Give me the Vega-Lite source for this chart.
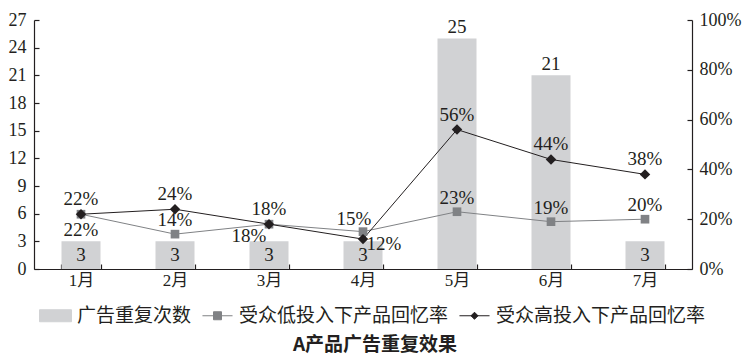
{
  "$schema": "https://vega.github.io/schema/vega-lite/v6.json",
  "width": 658,
  "height": 249,
  "autosize": {"type": "none"},
  "padding": {"left": 34, "top": 20, "right": 60, "bottom": 91},
  "background": "white",
  "config": {
    "view": {"stroke": null},
    "axis": {
      "domainColor": "#231f20",
      "tickColor": "#231f20",
      "labelColor": "#231f20",
      "labelFont": "Liberation Serif",
      "labelFontSize": 18,
      "labelOverlap": false,
      "grid": false,
      "title": null,
      "tickSize": -5,
      "labelPadding": 13,
      "domainWidth": 1.2,
      "tickWidth": 1.2
    },
    "legend": {
      "title": null,
      "labelFont": "Noto Sans CJK SC",
      "labelFontSize": 19,
      "labelColor": "#231f20",
      "labelLimit": 400
    }
  },
  "datasets": {
    "bars": [
      {"month": "1月", "count": 3},
      {"month": "2月", "count": 3},
      {"month": "3月", "count": 3},
      {"month": "4月", "count": 3},
      {"month": "5月", "count": 25},
      {"month": "6月", "count": 21},
      {"month": "7月", "count": 3}
    ],
    "rates": [
      {"month": "1月", "series": "受众低投入下产品回忆率", "rate": 0.22},
      {"month": "2月", "series": "受众低投入下产品回忆率", "rate": 0.14},
      {"month": "3月", "series": "受众低投入下产品回忆率", "rate": 0.18},
      {"month": "4月", "series": "受众低投入下产品回忆率", "rate": 0.15},
      {"month": "5月", "series": "受众低投入下产品回忆率", "rate": 0.23},
      {"month": "6月", "series": "受众低投入下产品回忆率", "rate": 0.19},
      {"month": "7月", "series": "受众低投入下产品回忆率", "rate": 0.20},
      {"month": "1月", "series": "受众高投入下产品回忆率", "rate": 0.22},
      {"month": "2月", "series": "受众高投入下产品回忆率", "rate": 0.24},
      {"month": "3月", "series": "受众高投入下产品回忆率", "rate": 0.18},
      {"month": "4月", "series": "受众高投入下产品回忆率", "rate": 0.12},
      {"month": "5月", "series": "受众高投入下产品回忆率", "rate": 0.56},
      {"month": "6月", "series": "受众高投入下产品回忆率", "rate": 0.44},
      {"month": "7月", "series": "受众高投入下产品回忆率", "rate": 0.38}
    ]
  },
  "title": {
    "text": "A产品广告重复效果",
    "orient": "bottom",
    "anchor": "middle",
    "font": "Noto Sans CJK SC",
    "fontSize": 19,
    "fontWeight": "bold",
    "color": "#231f20",
    "offset": 10,
    "dx": 12
  },
  "encoding": {
    "x": {
      "field": "month",
      "type": "nominal",
      "sort": ["1月", "2月", "3月", "4月", "5月", "6月", "7月"],
      "scale": {"paddingInner": 0.585, "paddingOuter": 0.2925},
      "axis": {
        "tickBand": "extent",
        "labelAngle": 0,
        "labelFont": "Liberation Serif, Noto Sans CJK SC",
        "labelFontSize": 17,
        "labelPadding": 8
      }
    }
  },
  "layer": [
    {
      "data": {"name": "bars"},
      "encoding": {
        "y": {
          "field": "count",
          "type": "quantitative",
          "scale": {"domain": [0, 27], "nice": false},
          "axis": {"orient": "left", "values": [0, 3, 6, 9, 12, 15, 18, 21, 24, 27], "labelOverlap": false}
        }
      },
      "layer": [
        {
          "mark": {"type": "bar"},
          "encoding": {
            "color": {
              "datum": "广告重复次数",
              "type": "nominal",
              "scale": {
                "domain": ["广告重复次数", "受众低投入下产品回忆率", "受众高投入下产品回忆率"],
                "range": ["#d1d2d4", "#808285", "#231f20"]
              },
              "legend": {
                "orient": "none",
                "legendX": 5,
                "legendY": 279,
                "direction": "horizontal",
                "title": null,
                "symbolSize": 1024,
                "labelOffset": 5,
                "columnPadding": 8,
                "encode": {
                  "symbols": {
                    "update": {
                      "shape": [
                        {"test": "datum.value === '广告重复次数'", "value": "M-1,-0.375H1V0.375H-1Z"},
                        {"test": "datum.value === '受众低投入下产品回忆率'", "value": "M-0.94,0H0.94M-0.25,-0.25H0.25V0.25H-0.25Z"},
                        {"value": "M-0.94,0H0.94M0,-0.22L0.22,0L0,0.22L-0.22,0Z"}
                      ],
                      "fill": {"scale": "color", "field": "value"},
                      "stroke": {"scale": "color", "field": "value"},
                      "size": {"value": 1024},
                      "strokeWidth": {"value": 1},
                      "opacity": {"value": 1},
                      "fillOpacity": {"value": 1}
                    }
                  }
                }
              }
            }
          }
        },
        {
          "transform": [{"filter": "datum.count < 10"}],
          "mark": {"type": "text", "font": "Liberation Serif", "fontSize": 19, "color": "#231f20", "baseline": "middle", "dy": 14},
          "encoding": {
            "text": {"field": "count", "type": "quantitative"}
          }
        },
        {
          "transform": [{"filter": "datum.count >= 10"}],
          "mark": {"type": "text", "font": "Liberation Serif", "fontSize": 19, "color": "#231f20", "baseline": "middle", "dy": -11},
          "encoding": {
            "text": {"field": "count", "type": "quantitative"}
          }
        }
      ]
    },
    {
      "data": {"name": "rates"},
      "encoding": {
        "y": {
          "field": "rate",
          "type": "quantitative",
          "scale": {"domain": [0, 1], "nice": false},
          "axis": {"orient": "right", "values": [0, 0.2, 0.4, 0.6, 0.8, 1], "format": ".0%", "labelPadding": 12, "labelOverlap": false}
        }
      },
      "layer": [
        {
          "mark": {"type": "line", "strokeWidth": 1},
          "encoding": {
            "color": {"field": "series", "type": "nominal", "legend": {"title": null}}
          }
        },
        {
          "transform": [{"filter": "datum.series === '受众低投入下产品回忆率'"}],
          "mark": {"type": "point", "shape": "square", "filled": true, "size": 75, "color": "#808285", "opacity": 1},
          "encoding": {}
        },
        {
          "transform": [{"filter": "datum.series === '受众高投入下产品回忆率'"}],
          "mark": {"type": "point", "shape": "diamond", "filled": true, "size": 110, "color": "#231f20", "opacity": 1},
          "encoding": {}
        },
        {
          "transform": [{"filter": "datum.series === '受众高投入下产品回忆率' && datum.month !== '4月'"}],
          "mark": {"type": "text", "font": "Liberation Serif", "fontSize": 19, "color": "#231f20", "baseline": "middle", "dy": -15},
          "encoding": {"text": {"field": "rate", "type": "quantitative", "format": ".0%"}}
        },
        {
          "transform": [{"filter": "datum.series === '受众高投入下产品回忆率' && datum.month === '4月'"}],
          "mark": {"type": "text", "font": "Liberation Serif", "fontSize": 19, "color": "#231f20", "baseline": "middle", "dx": 21, "dy": 5},
          "encoding": {"text": {"field": "rate", "type": "quantitative", "format": ".0%"}}
        },
        {
          "transform": [{"filter": "datum.series === '受众低投入下产品回忆率' && indexof(['2月','5月','6月','7月'], datum.month) >= 0"}],
          "mark": {"type": "text", "font": "Liberation Serif", "fontSize": 19, "color": "#231f20", "baseline": "middle", "dy": -14},
          "encoding": {"text": {"field": "rate", "type": "quantitative", "format": ".0%"}}
        },
        {
          "transform": [{"filter": "datum.series === '受众低投入下产品回忆率' && datum.month === '1月'"}],
          "mark": {"type": "text", "font": "Liberation Serif", "fontSize": 19, "color": "#231f20", "baseline": "middle", "dy": 16},
          "encoding": {"text": {"field": "rate", "type": "quantitative", "format": ".0%"}}
        },
        {
          "transform": [{"filter": "datum.series === '受众低投入下产品回忆率' && datum.month === '3月'"}],
          "mark": {"type": "text", "font": "Liberation Serif", "fontSize": 19, "color": "#231f20", "baseline": "middle", "dx": -20, "dy": 12},
          "encoding": {"text": {"field": "rate", "type": "quantitative", "format": ".0%"}}
        },
        {
          "transform": [{"filter": "datum.series === '受众低投入下产品回忆率' && datum.month === '4月'"}],
          "mark": {"type": "text", "font": "Liberation Serif", "fontSize": 19, "color": "#231f20", "baseline": "middle", "dx": -9, "dy": -13},
          "encoding": {"text": {"field": "rate", "type": "quantitative", "format": ".0%"}}
        }
      ]
    }
  ],
  "resolve": {"scale": {"y": "independent"}}
}
